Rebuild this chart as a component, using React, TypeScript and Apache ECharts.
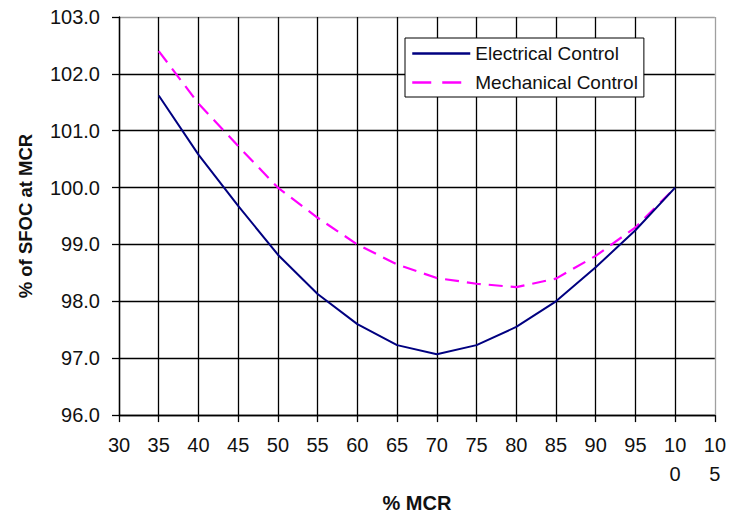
import React, { useEffect, useRef } from "react";
import * as echarts from "echarts";

const mcr = [35, 40, 45, 50, 55, 60, 65, 70, 75, 80, 85, 90, 95, 100];
const electrical = [101.62, 100.58, 99.68, 98.82, 98.13, 97.6, 97.23, 97.07, 97.23, 97.55, 98.0, 98.6, 99.25, 100.0];
const mechanical = [102.4, 101.48, 100.73, 100.0, 99.47, 99.0, 98.65, 98.41, 98.31, 98.25, 98.4, 98.8, 99.3, 100.0];
const xTicks = [30, 35, 40, 45, 50, 55, 60, 65, 70, 75, 80, 85, 90, 95, 100, 105];
const xTickLabels = ["30", "35", "40", "45", "50", "55", "60", "65", "70", "75", "80", "85", "90", "95", "10\n0", "10\n5"];
const yTicks = [96, 97, 98, 99, 100, 101, 102, 103];

const FONT = "Liberation Sans, Arial, sans-serif";

export default function App() {
  const ref = useRef<HTMLDivElement>(null);
  useEffect(() => {
    if (!ref.current) return;
    const chart = echarts.init(ref.current, null, { renderer: "svg" });
    const xSplitColors = xTicks.map((_, i) => (i === xTicks.length - 1 ? "#a0a0a0" : "#000"));
    const ySplitColors = yTicks.map((_, i) => (i === yTicks.length - 1 ? "#a0a0a0" : "#000"));
    chart.setOption({
      animation: false,
      backgroundColor: "#fff",
      textStyle: { fontFamily: FONT },
      grid: { left: 119, right: 14, top: 17, height: 406, containLabel: false },
      legend: {
        left: 405,
        top: 38,
        orient: "vertical",
        padding: [6, 6, 5, 6],
        itemWidth: 58,
        itemHeight: 18,
        itemGap: 10,
        borderColor: "#000",
        borderWidth: 1,
        backgroundColor: "#fff",
        itemStyle: { opacity: 0 },
        textStyle: { fontSize: 19, color: "#111", fontFamily: FONT },
        data: [
          { name: "Electrical Control", lineStyle: { width: 2.5 } },
          { name: "Mechanical Control", lineStyle: { width: 2.5, type: [19, 11] } },
        ],
      },
      xAxis: {
        type: "value",
        min: 30,
        max: 105,
        interval: 5,
        name: "% MCR",
        nameLocation: "middle",
        nameGap: 74,
        nameTextStyle: { fontSize: 20, fontWeight: "bold", color: "#111", fontFamily: FONT },
        axisLine: { show: true, onZero: false, lineStyle: { color: "#000", width: 1.3 } },
        axisTick: { show: true, length: 7, lineStyle: { color: "#000", width: 1.3 } },
        axisLabel: {
          fontSize: 20,
          color: "#111",
          lineHeight: 29,
          margin: 15,
          fontFamily: FONT,
          formatter: (v: number) => {
            const i = xTicks.indexOf(v);
            return i >= 0 ? xTickLabels[i] : String(v);
          },
        },
        splitLine: { show: true, lineStyle: { color: xSplitColors, width: 1.3 } },
      },
      yAxis: {
        type: "value",
        min: 96,
        max: 103,
        interval: 1,
        name: "% of SFOC at MCR",
        nameLocation: "middle",
        nameGap: 84,
        nameTextStyle: { fontSize: 18.5, fontWeight: "bold", color: "#111", fontFamily: FONT },
        axisLine: { show: true, lineStyle: { color: "#000", width: 1.3 } },
        axisTick: { show: true, length: 7, lineStyle: { color: "#000", width: 1.3 } },
        axisLabel: {
          fontSize: 20,
          color: "#111",
          margin: 19,
          fontFamily: FONT,
          formatter: (v: number) => v.toFixed(1),
        },
        splitLine: { show: true, lineStyle: { color: ySplitColors, width: 1.3 } },
      },
      series: [
        {
          name: "Electrical Control",
          type: "line",
          data: mcr.map((x, i) => [x, electrical[i]]),
          symbol: "none",
          smooth: false,
          lineStyle: { color: "#000080", width: 2 },
          itemStyle: { color: "#000080" },
          z: 3,
        },
        {
          name: "Mechanical Control",
          type: "line",
          data: mcr.map((x, i) => [x, mechanical[i]]),
          symbol: "none",
          smooth: false,
          lineStyle: { color: "#ff00ff", width: 2.2, type: [14, 8] },
          itemStyle: { color: "#ff00ff" },
          z: 2,
        },
      ],
    });
    return () => chart.dispose();
  }, []);
  return (
    <div
      ref={ref}
      style={{ position: "fixed", left: 0, top: 0, width: 729, height: 518, background: "#fff" }}
    />
  );
}
